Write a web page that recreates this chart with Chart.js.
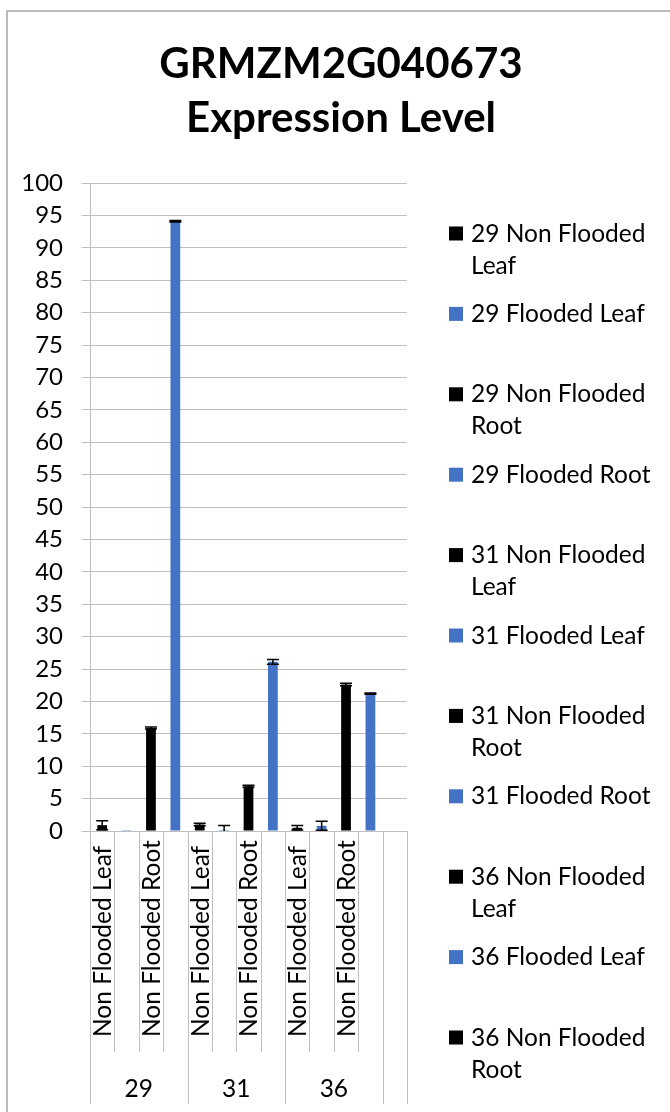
<!DOCTYPE html>
<html>
<head>
<meta charset="utf-8">
<script src="https://cdn.jsdelivr.net/npm/chart.js@4.4.0/dist/chart.umd.min.js"></script>
<style>
  html, body { margin: 0; padding: 0; background: #ffffff; }
  #wrap { position: relative; width: 670px; height: 1112px; }
</style>
</head>
<body>
<div id="wrap"><canvas id="c" width="670" height="1112"></canvas></div>
<script>
// ---- data ----
const titleLines = ['GRMZM2G040673', 'Expression Level'];
const groups = ['29', '31', '36', ''];
const groupSizes = [4, 4, 4, 1];
const categories = [
  'Non Flooded Leaf', 'Flooded Leaf', 'Non Flooded Root', 'Flooded Root',
  'Non Flooded Leaf', 'Flooded Leaf', 'Non Flooded Root', 'Flooded Root',
  'Non Flooded Leaf', 'Flooded Leaf', 'Non Flooded Root', 'Flooded Root',
  ''
];
const shownLabels = [
  'Non Flooded Leaf', '', 'Non Flooded Root', '',
  'Non Flooded Leaf', '', 'Non Flooded Root', '',
  'Non Flooded Leaf', '', 'Non Flooded Root', '',
  ''
];
const values = [0.9, 0.02, 15.9, 94.1, 1.0, 0.15, 6.9, 26.1, 0.5, 0.8, 22.6, 21.2, null];
const errors = [0.7, 0, 0.15, 0.1, 0.2, 0.7, 0.15, 0.35, 0.35, 0.7, 0.2, 0.1, null];
const barColors = ['#000000', '#4472C4', '#000000', '#4472C4',
                   '#000000', '#4472C4', '#000000', '#4472C4',
                   '#000000', '#4472C4', '#000000', '#4472C4', '#000000'];
const legendLabels = [
  '29 Non Flooded Leaf', '29 Flooded Leaf', '29 Non Flooded Root', '29 Flooded Root',
  '31 Non Flooded Leaf', '31 Flooded Leaf', '31 Non Flooded Root', '31 Flooded Root',
  '36 Non Flooded Leaf', '36 Flooded Leaf', '36 Non Flooded Root', '36 Flooded Root'
];
const legendColors = ['#000000', '#4472C4', '#000000', '#4472C4',
                      '#000000', '#4472C4', '#000000', '#4472C4',
                      '#000000', '#4472C4', '#000000', '#4472C4'];
const yMin = 0, yMax = 100, yStep = 5;

// ---- styling ----
const FONT = 'Lato, "Open Sans", sans-serif';
const GRID = '#bfbfbf';

const decor = {
  id: 'decor',
  beforeDraw(chart) {
    const ctx = chart.ctx;
    ctx.save();
    ctx.fillStyle = '#ffffff';
    ctx.fillRect(0, 0, chart.width, chart.height);
    ctx.strokeStyle = '#a6a6a6';
    ctx.lineWidth = 1.5;
    ctx.strokeRect(7, 11, 800, 1300);
    ctx.restore();
  },
  afterDraw(chart) {
    const ctx = chart.ctx;
    const xs = chart.scales.x, ys = chart.scales.y;
    const area = chart.chartArea;
    const n = categories.length;
    ctx.save();

    // title
    ctx.fillStyle = '#000';
    ctx.font = 'bold 42px ' + FONT;
    ctx.textAlign = 'center';
    ctx.textBaseline = 'alphabetic';
    ctx.fillText(titleLines[0], 341, 78);
    ctx.fillText(titleLines[1], 341, 132);

    // error bars
    ctx.strokeStyle = '#000';
    ctx.lineWidth = 1.5;
    for (let i = 0; i < n; i++) {
      const v = values[i], e = errors[i];
      if (v == null || !e) continue;
      const x = xs.getPixelForValue(i);
      const yt = ys.getPixelForValue(v + e);
      const yb = ys.getPixelForValue(Math.max(0, v - e));
      ctx.beginPath();
      ctx.moveTo(x, yt); ctx.lineTo(x, yb);
      ctx.moveTo(x - 6, yt); ctx.lineTo(x + 6, yt);
      if (v - e > 0) { ctx.moveTo(x - 6, yb); ctx.lineTo(x + 6, yb); }
      ctx.stroke();
    }

    // category axis: separators
    const slot = (area.right - area.left) / n;
    const groupBounds = [0];
    groupSizes.reduce((acc, s) => { groupBounds.push(acc + s); return acc + s; }, 0);
    ctx.strokeStyle = GRID;
    ctx.lineWidth = 1;
    for (let i = 0; i <= n; i++) {
      const x = Math.round(area.left + i * slot) + 0.5;
      const isGroup = groupBounds.includes(i);
      ctx.beginPath();
      ctx.moveTo(x, area.bottom);
      ctx.lineTo(x, isGroup ? 1104 : 1052);
      ctx.stroke();
    }
    // category labels (rotated)
    ctx.fillStyle = '#000';
    ctx.font = '24.5px ' + FONT;
    ctx.textAlign = 'left';
    ctx.textBaseline = 'middle';
    for (let i = 0; i < n; i++) {
      if (!shownLabels[i]) continue;
      const x = xs.getPixelForValue(i);
      ctx.save();
      ctx.translate(x + 1, 1037);
      ctx.rotate(-Math.PI / 2);
      ctx.fillText(shownLabels[i], 0, 0);
      ctx.restore();
    }
    // group labels
    ctx.textAlign = 'center';
    ctx.textBaseline = 'middle';
    for (let g = 0; g < groups.length; g++) {
      if (!groups[g]) continue;
      const x0 = area.left + groupBounds[g] * slot;
      const x1 = area.left + groupBounds[g + 1] * slot;
      ctx.fillText(groups[g], (x0 + x1) / 2, 1089);
    }

    // legend
    ctx.font = '24.5px ' + FONT;
    ctx.textAlign = 'left';
    ctx.textBaseline = 'alphabetic';
    const maxW = 192;
    for (let i = 0; i < legendLabels.length; i++) {
      const yc = 233.5 + i * 80.4;
      if (yc + 12 > chart.height) continue; // entries that do not fit are not shown
      ctx.fillStyle = legendColors[i];
      ctx.fillRect(449, yc - 7, 14, 14);
      ctx.fillStyle = '#000';
      const words = legendLabels[i].split(' ');
      const lines = [];
      let cur = '';
      for (const w of words) {
        const t = cur ? cur + ' ' + w : w;
        if (ctx.measureText(t).width > maxW && cur) { lines.push(cur); cur = w; }
        else cur = t;
      }
      lines.push(cur);
      lines.forEach((ln, k) => ctx.fillText(ln, 471, yc + 8 + k * 32));
    }
    ctx.restore();
  }
};

new Chart(document.getElementById('c'), {
  type: 'bar',
  data: {
    labels: categories,
    datasets: [{
      data: values,
      backgroundColor: barColors,
      borderWidth: 0,
      categoryPercentage: 1.0,
      barPercentage: 0.4
    }]
  },
  options: {
    responsive: false,
    animation: false,
    devicePixelRatio: 1,
    layout: { padding: { top: 183, left: 7, right: 263, bottom: 281 } },
    plugins: {
      legend: { display: false },
      title: { display: false },
      tooltip: { enabled: false }
    },
    scales: {
      x: { display: false, offset: true },
      y: {
        min: yMin, max: yMax,
        ticks: { stepSize: yStep, padding: 19, color: '#000', font: { family: FONT, size: 24 } },
        grid: { color: GRID, tickLength: 8, lineWidth: 1 },
        border: { color: GRID },
        afterFit(s) { s.width = 83; }
      }
    }
  },
  plugins: [decor]
});
</script>
</body>
</html>
